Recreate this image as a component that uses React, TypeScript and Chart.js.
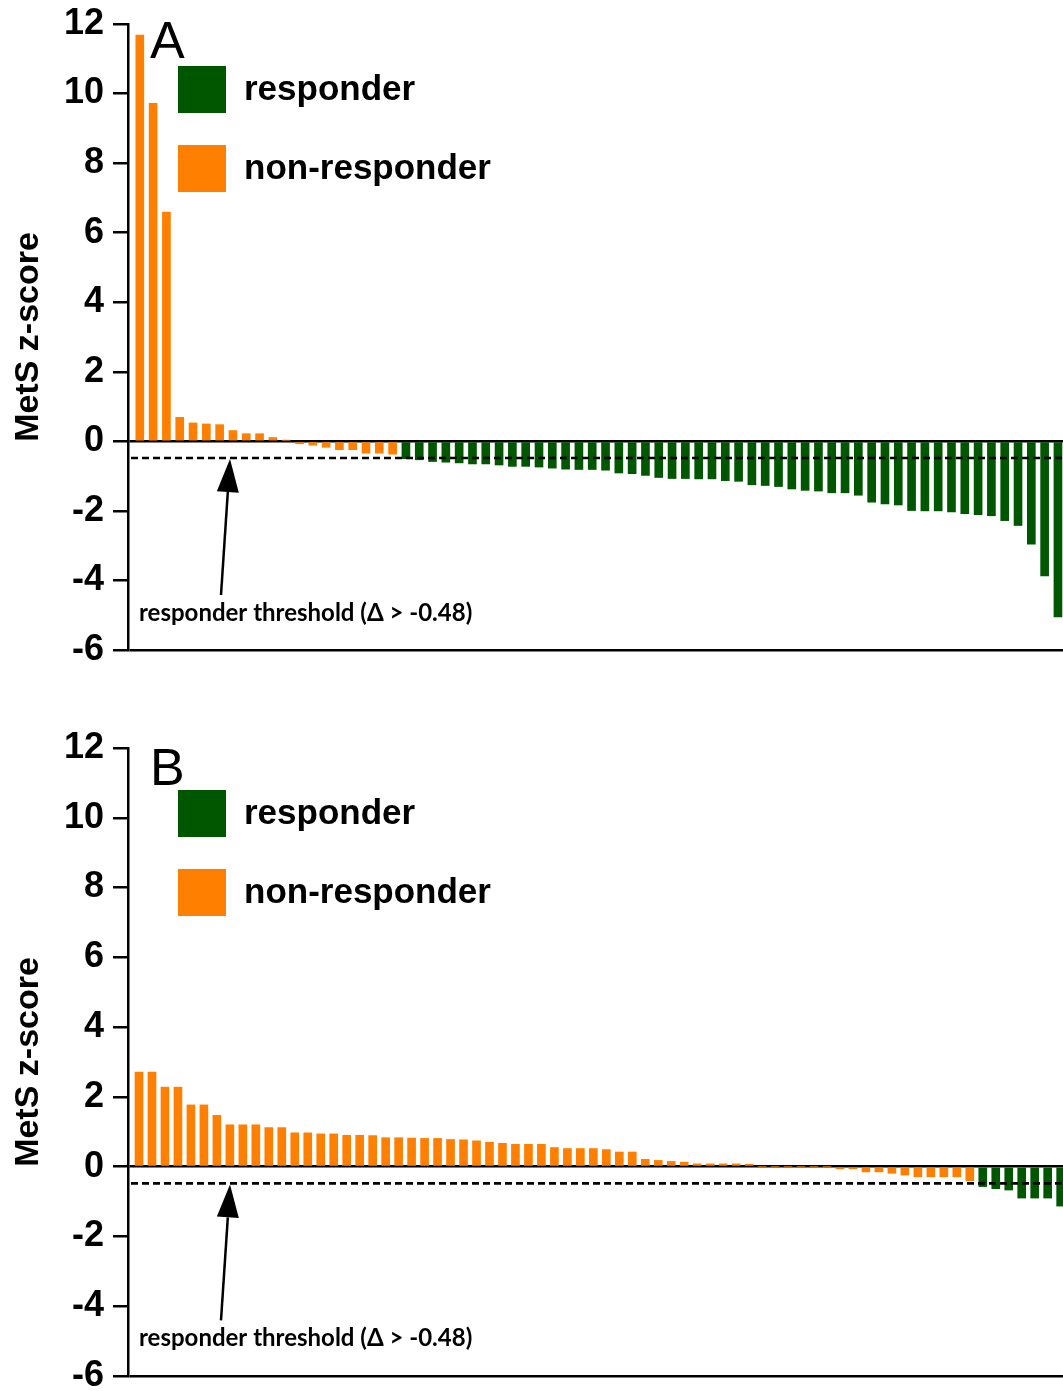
import React, { useEffect, useRef } from 'react';
import { Chart, registerables } from 'chart.js';

Chart.register(...registerables);

// ---- data ----
const THRESHOLD = -0.48;
const Y_TICKS = [-6, -4, -2, 0, 2, 4, 6, 8, 10, 12];
const Y_TITLE = 'MetS z-score';
const LEGEND_LABELS = ['responder', 'non-responder'];
const ANNOTATION_TEXT = 'responder threshold (\u0394 > -0.48)';
const PANEL_LETTERS = ['A', 'B'];

const PANEL_A_VALUES = [
  11.68, 9.72, 6.59, 0.69, 0.53, 0.5, 0.48, 0.31, 0.22, 0.22,
  0.11, 0.03, -0.07, -0.11, -0.17, -0.24, -0.24, -0.34, -0.34, -0.37,
  -0.5, -0.53, -0.58, -0.6, -0.62, -0.65, -0.65, -0.68, -0.72, -0.72,
  -0.74, -0.77, -0.8, -0.81, -0.81, -0.83, -0.91, -0.93, -0.98, -1.04,
  -1.07, -1.07, -1.08, -1.08, -1.13, -1.15, -1.25, -1.27, -1.3, -1.37,
  -1.41, -1.43, -1.48, -1.48, -1.55, -1.75, -1.8, -1.83, -1.99, -2.0,
  -2.0, -2.03, -2.08, -2.11, -2.14, -2.28, -2.42, -2.96, -3.87, -5.05,
];

const PANEL_B_VALUES = [
  2.71, 2.71, 2.28, 2.28, 1.77, 1.77, 1.47, 1.2, 1.2, 1.2,
  1.12, 1.12, 0.97, 0.97, 0.94, 0.94, 0.9, 0.9, 0.89, 0.83,
  0.83, 0.82, 0.81, 0.81, 0.78, 0.77, 0.74, 0.7, 0.67, 0.64,
  0.64, 0.64, 0.55, 0.52, 0.52, 0.52, 0.49, 0.42, 0.42, 0.21,
  0.18, 0.15, 0.13, 0.08, 0.08, 0.08, 0.08, 0.07, 0, 0,
  0, 0, 0, 0, -0.06, -0.06, -0.15, -0.15, -0.19, -0.24,
  -0.29, -0.29, -0.29, -0.29, -0.4, -0.57, -0.63, -0.67, -0.9, -0.9,
  -0.9, -1.13,
];

const COLOR_RESPONDER = '#005700';
const COLOR_NON = '#FF8000';
const FONT = "'Liberation Sans', Arial, sans-serif";

type PanelCfg = {
  values: number[];
  letter: string;
  xMin: number;
  xMax: number;
  height: number;
  top: number;
  padTop: number;
  padBottom: number;
  letterBaseline: number;
};

function decorPlugin(cfg: PanelCfg) {
  return {
    id: 'decor',
    afterDatasetsDraw(chart: any) {
      const { ctx, chartArea } = chart;
      const yScale = chart.scales.y;
      const ty = yScale.getPixelForValue(THRESHOLD);
      const L = chartArea.left;
      ctx.save();
      // threshold dashed line
      ctx.strokeStyle = '#000';
      ctx.lineWidth = 2.6;
      ctx.setLineDash([7, 4]);
      ctx.beginPath();
      ctx.moveTo(L + 3, ty);
      ctx.lineTo(chartArea.right, ty);
      ctx.stroke();
      ctx.setLineDash([]);

      // arrow
      const tipX = L + 102;
      const tipY = ty + 1;
      const tailX = L + 93;
      const tailY = ty + 137;
      const dx = tipX - tailX;
      const dy = tipY - tailY;
      const len = Math.sqrt(dx * dx + dy * dy);
      const ux = dx / len;
      const uy = dy / len;
      const headLen = 33;
      const halfW = 11;
      const bx = tipX - ux * headLen;
      const by = tipY - uy * headLen;
      ctx.lineWidth = 2.5;
      ctx.beginPath();
      ctx.moveTo(tailX, tailY);
      ctx.lineTo(bx, by);
      ctx.stroke();
      ctx.fillStyle = '#000';
      ctx.beginPath();
      ctx.moveTo(tipX, tipY);
      ctx.lineTo(bx - uy * halfW, by + ux * halfW);
      ctx.lineTo(bx + uy * halfW, by - ux * halfW);
      ctx.closePath();
      ctx.fill();

      // annotation text
      ctx.font = "bold 24px Lato, 'Open Sans', sans-serif";
      ctx.textAlign = 'left';
      ctx.textBaseline = 'middle';
      ctx.fillText(ANNOTATION_TEXT, L + 11, ty + 155);

      // legend
      const colors = [COLOR_RESPONDER, COLOR_NON];
      const offsets = [42, 121];
      ctx.font = `bold 35px ${FONT}`;
      LEGEND_LABELS.forEach((lab, i) => {
        const sy = chartArea.top + offsets[i];
        ctx.fillStyle = colors[i];
        ctx.fillRect(L + 50, sy, 48, 47);
        ctx.fillStyle = '#000';
        ctx.fillText(lab, L + 116, sy + 24);
      });

      // panel letter
      ctx.font = `52px ${FONT}`;
      ctx.textBaseline = 'alphabetic';
      ctx.fillText(cfg.letter, L + 22, chartArea.top + cfg.letterBaseline);
      ctx.restore();
    },
  };
}

function Panel({ cfg }: { cfg: PanelCfg }) {
  const ref = useRef<HTMLCanvasElement>(null);
  useEffect(() => {
    const canvas = ref.current!;
    const data = cfg.values.map((v, i) => ({ x: i, y: v }));
    const colors = cfg.values.map((v) => (v <= THRESHOLD ? COLOR_RESPONDER : COLOR_NON));
    const chart = new Chart(canvas, {
      type: 'bar',
      data: {
        datasets: [
          {
            data: data as any,
            backgroundColor: colors,
            borderWidth: 0,
            barThickness: 8,
          },
        ],
      },
      options: {
        responsive: false,
        animation: false,
        layout: { padding: { top: cfg.padTop, bottom: cfg.padBottom, left: 0, right: 0 } },
        plugins: { legend: { display: false }, tooltip: { enabled: false } },
        scales: {
          x: {
            type: 'linear',
            display: false,
            offset: false,
            bounds: 'data',
            min: cfg.xMin,
            max: cfg.xMax,
            grid: { offset: false },
          },
          y: {
            min: -6,
            max: 12,
            afterBuildTicks: (s: any) => {
              s.ticks = Y_TICKS.map((v) => ({ value: v }));
            },
            afterFit: (s: any) => {
              s.width = 128;
            },
            ticks: {
              color: '#000',
              padding: 9,
              autoSkip: false,
              font: { family: FONT, size: 36, weight: 'bold' },
            },
            grid: {
              drawOnChartArea: true,
              color: (c: any) =>
                c.tick && (c.tick.value === 0 || c.tick.value === -6) ? '#000' : 'rgba(0,0,0,0)',
              lineWidth: 2.5,
              tickLength: 15,
              tickColor: '#000',
              tickWidth: 2.5,
            },
            border: { display: true, color: '#000', width: 2.5 },
            title: {
              display: true,
              text: Y_TITLE,
              color: '#000',
              font: { family: FONT, size: 34, weight: 'bold' },
              padding: { top: 8, bottom: 0 },
            },
          } as any,
        },
      },
      plugins: [decorPlugin(cfg)],
    } as any);
    return () => chart.destroy();
  }, []);
  return (
    <canvas
      ref={ref}
      width={1063}
      height={cfg.height}
      style={{ position: 'absolute', left: 0, top: cfg.top, width: 1063, height: cfg.height, display: 'block' }}
    />
  );
}

const PANEL_A: PanelCfg = {
  values: PANEL_A_VALUES,
  letter: PANEL_LETTERS[0],
  xMin: -0.887,
  xMax: 69.38,
  height: 725,
  top: -30,
  padTop: 54,
  padBottom: 45,
  letterBaseline: 34,
};

const PANEL_B: PanelCfg = {
  values: PANEL_B_VALUES,
  letter: PANEL_LETTERS[1],
  xMin: -0.847,
  xMax: 71.18,
  height: 720,
  top: 695,
  padTop: 53,
  padBottom: 39,
  letterBaseline: 37,
};

export default function App() {
  return (
    <div
      style={{
        position: 'absolute',
        left: 0,
        top: 0,
        width: 1063,
        height: 1391,
        overflow: 'hidden',
        background: '#fff',
      }}
    >
      <Panel cfg={PANEL_A} />
      <Panel cfg={PANEL_B} />
    </div>
  );
}
